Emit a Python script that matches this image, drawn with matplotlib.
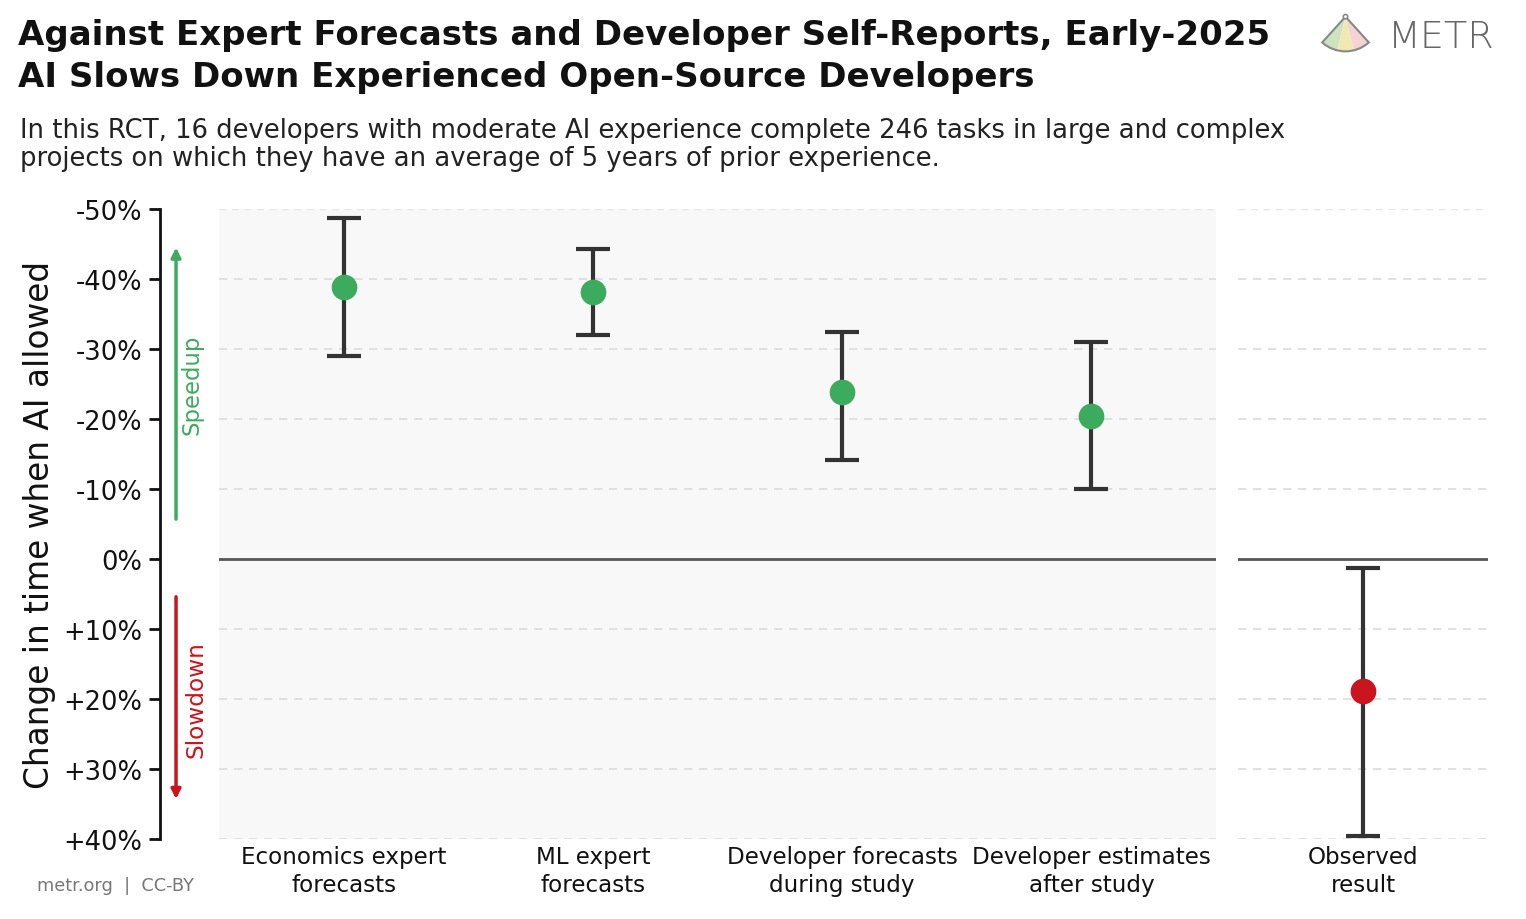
import matplotlib
matplotlib.use("Agg")
import matplotlib.pyplot as plt
from matplotlib.patches import Wedge, Circle
import numpy as np

plt.rcParams['font.family'] = ['DejaVu Sans']

# ---- data ----
categories = ["Economics expert\nforecasts", "ML expert\nforecasts",
              "Developer forecasts\nduring study", "Developer estimates\nafter study"]
centers = [-38.9, -38.1, -23.9, -20.4]
lows = [-48.7, -44.3, -32.4, -31.0]
highs = [-29.0, -32.0, -14.1, -10.0]

obs_category = ["Observed\nresult"]
obs_center = [18.9]
obs_low = [1.3]
obs_high = [39.6]

yticks = [-50, -40, -30, -20, -10, 0, 10, 20, 30, 40]
yticklabels = ["-50%", "-40%", "-30%", "-20%", "-10%", "0%", "+10%", "+20%", "+30%", "+40%"]

W, H = 1526, 920
fig = plt.figure(figsize=(W / 100, H / 100), dpi=100)
renderer = fig.canvas.get_renderer()

def fit(t, target, vertical=False):
    """Scale a text's font size so that its extent matches target pixels."""
    for _ in range(3):
        bb = t.get_window_extent(renderer)
        cur = bb.height if vertical else bb.width
        t.set_fontsize(t.get_fontsize() * target / cur)
    return t

def px_rect(x0, x1, ytop, ybot):
    return [x0 / W, 1 - ybot / H, (x1 - x0) / W, (ybot - ytop) / H]

ax = fig.add_axes(px_rect(219, 1216, 210, 840))
ax2 = fig.add_axes(px_rect(1238, 1488, 210, 840))

GREEN = "#3dab5e"
RED = "#c9151e"
EC = "#333333"

def draw(a, cats, c, lo, hi, color):
    x = np.arange(len(cats))
    c = np.array(c); lo = np.array(lo); hi = np.array(hi)
    a.errorbar(x, c, yerr=[c - lo, hi - c], fmt='none', ecolor=EC,
               elinewidth=3, capsize=12, capthick=3, zorder=3)
    a.plot(x, c, 'o', color=color, markersize=18.5, zorder=4, markeredgewidth=0)
    a.set_xticks(x)
    a.set_xticklabels(cats, fontsize=16.6, color="#111111", linespacing=1.3)
    a.set_xlim(-0.5, len(cats) - 0.5)

draw(ax, categories, centers, lows, highs, GREEN)
draw(ax2, obs_category, obs_center, obs_low, obs_high, RED)

for a in (ax, ax2):
    a.set_ylim(40, -50)
    a.set_yticks(yticks)
    for yv in yticks:
        if yv != 0 and yv != -50:
            a.axhline(yv, color="#dcdcdc", lw=1.2, dashes=(5, 4), zorder=1)
    a.axhline(-50, color="#e6e6e6", lw=1.0, dashes=(5, 4), zorder=1)
    a.axhline(0, color="#555555", lw=2, zorder=2)
    a.tick_params(axis='x', length=0, pad=4)
    for s in ['top', 'right', 'bottom']:
        a.spines[s].set_visible(False)

ax.set_facecolor("#f8f8f8")
ax2.set_facecolor("white")
ax2.spines['left'].set_visible(False)
ax2.tick_params(axis='y', left=False, labelleft=False)

ax.spines['left'].set_position(('outward', 59 * 0.72))
ax.spines['left'].set_linewidth(2)
ax.spines['left'].set_color("#111111")
ax.spines['left'].set_bounds(40, -50)
ax.set_yticklabels(yticklabels, fontsize=18.5, color="#111111")
ax.tick_params(axis='y', length=8, width=2, color="#111111", pad=5)

# arrows
ax.annotate("", xy=(-0.0431, -44.5), xytext=(-0.0431, -5.7),
            xycoords=('axes fraction', 'data'), textcoords=('axes fraction', 'data'),
            arrowprops=dict(arrowstyle='-|>', color=GREEN, lw=2.5, mutation_scale=14,
                            shrinkA=0, shrinkB=0), annotation_clip=False)
ax.annotate("", xy=(-0.0431, 34.3), xytext=(-0.0431, 5.4),
            xycoords=('axes fraction', 'data'), textcoords=('axes fraction', 'data'),
            arrowprops=dict(arrowstyle='-|>', color=RED, lw=2.5, mutation_scale=14,
                            shrinkA=0, shrinkB=0), annotation_clip=False)
sp = ax.text(-0.027, -25, "Speedup", transform=ax.get_yaxis_transform(), rotation=90,
             ha='center', va='center', color=GREEN, fontsize=13, clip_on=False)
fit(sp, 100, vertical=True)
sl = ax.text(-0.023, 20, "Slowdown", transform=ax.get_yaxis_transform(), rotation=90,
             ha='center', va='center', color=RED, fontsize=13, clip_on=False)
fit(sl, 117, vertical=True)

# y label
yl = fig.text(40 / W, 1 - 525 / H, "Change in time when AI allowed", rotation=90,
              ha='center', va='center', fontsize=21, color="#111111")
fit(yl, 528, vertical=True)

# titles
t1 = fig.text(18 / W, 1 - 36 / H, "Against Expert Forecasts and Developer Self-Reports, Early-2025",
              ha='left', va='center', fontsize=21.5, fontweight='bold', color="#111111")
fit(t1, 1248)
t2 = fig.text(18 / W, 1 - 78 / H, "AI Slows Down Experienced Open-Source Developers",
              ha='left', va='center', fontsize=t1.get_fontsize(), fontweight='bold', color="#111111")
s1 = fig.text(20 / W, 1 - 131 / H,
              "In this RCT, 16 developers with moderate AI experience complete 246 tasks in large and complex",
              ha='left', va='center', fontsize=17, color="#222222")
fit(s1, 1268)
fig.text(20 / W, 1 - 159 / H,
         "projects on which they have an average of 5 years of prior experience.",
         ha='left', va='center', fontsize=s1.get_fontsize(), color="#222222")

# footer
ft = fig.text(37 / W, 1 - 886 / H, "metr.org  |  CC-BY", ha='left', va='center',
              fontsize=12, color="#777777")
fit(ft, 157)

# logo
mt = fig.text(1388 / W, 1 - 38 / H, "METR", ha='left', va='center', fontsize=27,
              color="#666666", fontweight='light')
fit(mt, 107)
lax = fig.add_axes(px_rect(1318, 1373, 14, 56))
lax.set_xlim(-0.75, 0.75)
lax.set_ylim(-1.05, 0.1)
lax.axis('off')
cols = ["#cde3bf", "#f1e9b4", "#f5d3d3"]
a0, a1 = 228, 312
edges = np.linspace(a0, a1, 4)
for i in range(3):
    lax.add_patch(Wedge((0, 0), 0.95, edges[i], edges[i + 1], facecolor=cols[i],
                        edgecolor='none'))
lax.add_patch(Wedge((0, 0), 0.95, a0, a1, facecolor='none', edgecolor="#888888", lw=1.5))
lax.add_patch(Circle((0, 0.0), 0.06, facecolor='white', edgecolor="#888888", lw=1.2))

fig.savefig("out.png", dpi=100)
